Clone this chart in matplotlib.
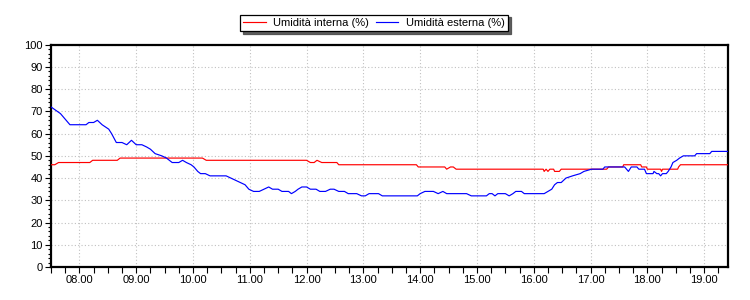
import matplotlib
matplotlib.use("Agg")
import matplotlib.pyplot as plt
from matplotlib.ticker import MultipleLocator, FuncFormatter

# ---- data ----
series_labels = ["Umidità interna (%)", "Umidità esterna (%)"]

interna_times = ["07:30", "07:34", "07:38", "08:11", "08:14", "08:40", "08:43", "10:10", "10:14",
                 "12:00", "12:04", "12:08", "12:11", "12:16", "12:32", "12:34", "13:56", "13:58",
                 "14:26", "14:28", "14:32", "14:35", "14:38", "16:10", "16:11", "16:13", "16:15",
                 "16:17", "16:21", "16:22", "16:27", "16:29", "17:17", "17:19", "17:34", "17:35",
                 "17:53", "17:54", "17:59", "18:00", "18:14", "18:15", "18:16", "18:32", "18:33",
                 "18:35", "19:25"]
interna_values = [46, 46, 47, 47, 48, 48, 49, 49, 48,
                  48, 47, 47, 48, 47, 47, 46, 46, 45,
                  45, 44, 45, 45, 44, 44, 43, 44, 43,
                  44, 44, 43, 43, 44, 44, 45, 45, 46,
                  46, 45, 45, 44, 44, 43, 44, 44, 45,
                  46, 46]

esterna_times = ["07:30", "07:40", "07:50", "08:07", "08:10", "08:15", "08:19", "08:24", "08:31",
                 "08:34", "08:39", "08:45", "08:50", "08:55", "09:00", "09:06", "09:11", "09:15",
                 "09:20", "09:27", "09:32", "09:38", "09:45", "09:49", "09:53", "09:58", "10:01",
                 "10:05", "10:08", "10:13", "10:18", "10:35", "10:40", "10:45", "10:50", "10:55",
                 "10:59", "11:04", "11:10", "11:15", "11:20", "11:24", "11:30", "11:34", "11:41",
                 "11:44", "11:48", "11:51", "11:55", "12:00", "12:04", "12:10", "12:14", "12:20",
                 "12:25", "12:29", "12:34", "12:40", "12:44", "12:53", "12:58", "13:02", "13:06",
                 "13:16", "13:20", "13:57", "14:00", "14:05", "14:14", "14:19", "14:24", "14:28",
                 "14:49", "14:54", "15:10", "15:13", "15:16", "15:19", "15:22", "15:30", "15:34",
                 "15:38", "15:41", "15:47", "15:50", "16:11", "16:15", "16:19", "16:22", "16:25",
                 "16:29", "16:34", "16:41", "16:49", "16:53", "17:01", "17:13", "17:15", "17:36",
                 "17:38", "17:40", "17:43", "17:49", "17:51", "17:57", "17:59", "18:06", "18:07",
                 "18:10", "18:12", "18:14", "18:16", "18:20", "18:22", "18:25", "18:27", "18:31",
                 "18:34", "18:38", "18:50", "18:52", "19:06", "19:08", "19:25"]
esterna_values = [72, 69, 64, 64, 65, 65, 66, 64, 62,
                  60, 56, 56, 55, 57, 55, 55, 54, 53,
                  51, 50, 49, 47, 47, 48, 47, 46, 45,
                  43, 42, 42, 41, 41, 40, 39, 38, 37,
                  35, 34, 34, 35, 36, 35, 35, 34, 34,
                  33, 34, 35, 36, 36, 35, 35, 34, 34,
                  35, 35, 34, 34, 33, 33, 32, 32, 33,
                  33, 32, 32, 33, 34, 34, 33, 34, 33,
                  33, 32, 32, 33, 33, 32, 33, 33, 32,
                  33, 34, 34, 33, 33, 34, 35, 37, 38,
                  38, 40, 41, 42, 43, 44, 44, 45, 45,
                  44, 43, 45, 45, 44, 44, 42, 42, 43,
                  42, 42, 41, 42, 42, 43, 45, 47, 48,
                  49, 50, 50, 51, 51, 52, 52]

x_min_hour, x_max_hour = 7.5, 19.42
hour_ticks = list(range(8, 20))


def to_hours(t):
    h, m = t.split(":")
    return int(h) + int(m) / 60.0


fig = plt.figure(figsize=(7.5, 3.0), dpi=100)
fig.patch.set_facecolor("white")
ax = fig.add_axes([51 / 750, 1 - 267 / 300, (728 - 51) / 750, (267 - 44.7) / 300])

ax.plot([to_hours(t) for t in interna_times], interna_values, color="#ff0000", lw=0.85,
        label=series_labels[0], zorder=3)
ax.plot([to_hours(t) for t in esterna_times], esterna_values, color="#0000ff", lw=0.85,
        label=series_labels[1], zorder=4)

ax.set_xlim(x_min_hour, x_max_hour)
ax.set_ylim(0, 100)
ax.set_xticks(hour_ticks)
ax.xaxis.set_minor_locator(MultipleLocator(0.25))
ax.xaxis.set_major_formatter(FuncFormatter(lambda v, p: "%02d.00" % int(round(v))))
ax.yaxis.set_major_locator(MultipleLocator(10))
ax.yaxis.set_minor_locator(MultipleLocator(2))

ax.grid(True, which="major", color="#c0c0c0", linestyle=(0, (1, 2)), linewidth=0.8, zorder=0)

for s in ax.spines.values():
    s.set_linewidth(1.6)
    s.set_color("black")

ax.tick_params(axis="both", which="major", length=4, width=0.8, colors="black", pad=2)
ax.tick_params(axis="both", which="minor", length=2.5, width=0.8, colors="black")
ax.tick_params(axis="x", which="minor", length=4)
for lab in ax.get_yticklabels():
    lab.set_family(["Liberation Sans", "DejaVu Sans"])
    lab.set_fontsize(8)
for lab in ax.get_xticklabels():
    lab.set_family(["Liberation Sans Narrow", "Liberation Sans", "DejaVu Sans"])
    lab.set_fontsize(8)

leg = ax.legend(loc="center", bbox_to_anchor=(374 / 750, 1 - 23 / 300),
                bbox_transform=fig.transFigure, ncol=2, frameon=True, fancybox=False,
                shadow={"alpha": 0.9}, edgecolor="black", framealpha=1,
                prop={"family": ["Liberation Sans", "DejaVu Sans"], "size": 8},
                handlelength=2.0, handletextpad=0.7, columnspacing=0.6,
                borderpad=0.3, borderaxespad=0)
leg.get_frame().set_linewidth(0.9)

fig.savefig("out.png", dpi=100)
